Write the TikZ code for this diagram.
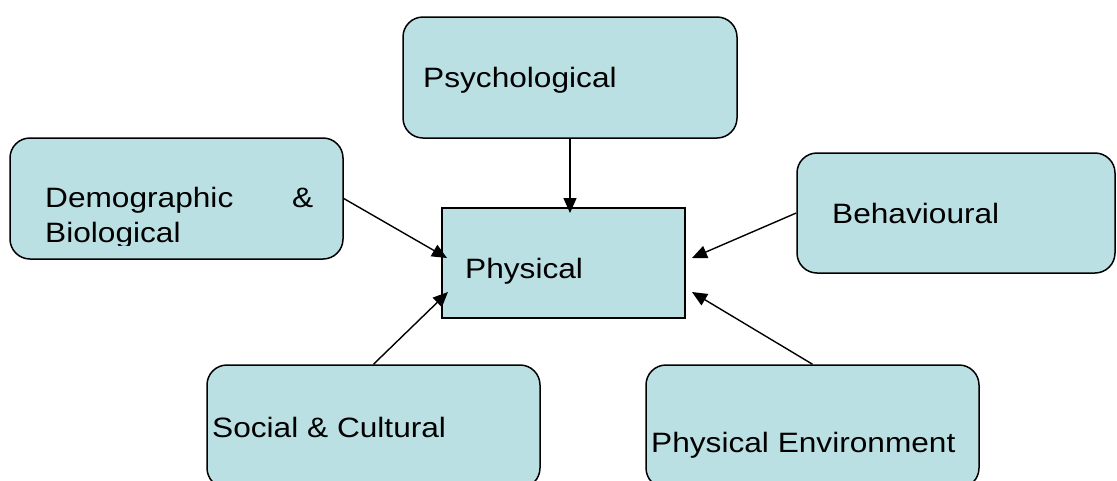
\documentclass[tikz,border=0pt]{standalone}
\usepackage{fontspec}
\setmainfont[FakeStretch=1.13]{Liberation Sans}
\usetikzlibrary{arrows.meta}
\definecolor{boxfill}{HTML}{BBE0E3}
\tikzset{
  rbox/.style={draw=black, line width=1.5pt, fill=boxfill, rounded corners=20pt, inner sep=0pt},
  sbox/.style={draw=black, line width=1.5pt, fill=boxfill, inner sep=0pt},
  lbl/.style={anchor=base west, inner sep=0pt, font=\fontsize{28}{35}\selectfont},
  arr/.style={line width=1.4pt, -{Triangle[length=15pt,width=13pt]}}
}
\begin{document}
\begin{tikzpicture}[x=1pt,y=-1pt]
\clip (0,0) rectangle (1117,480);
\node[rbox, minimum width=334pt, minimum height=121pt] (psy) at (570,77.5) {};
\node[rbox, minimum width=333pt, minimum height=121pt] (dem) at (176.5,198.5) {};
\node[sbox, minimum width=243pt, minimum height=110pt] (phy) at (563.5,263) {};
\node[rbox, minimum width=318pt, minimum height=120pt] (beh) at (956,213) {};
\node[rbox, minimum width=333pt, minimum height=123pt] (soc) at (373.5,426.5) {};
\node[rbox, minimum width=333pt, minimum height=123pt] (env) at (812.5,426.5) {};

\node[lbl] (psyt) at (423,87) {Psychological};
\begin{scope}
\clip (0,0) rectangle (1117,245);
\node[lbl] (demt) at (45,207) {\parbox[t]{268pt}{\fontsize{28}{35}\selectfont Demographic\hfill\&\\Biological}};
\end{scope}
\node[lbl] (phyt) at (465,278) {Physical};
\node[lbl] (beht) at (832,223) {Behavioural};
\node[lbl] (soct) at (212,437) {Social \& Cultural};
\node[lbl] (envt) at (651,452) {Physical Environment};

\coordinate (tpsy) at (570,213);
\coordinate (tdem) at (447,258);
\coordinate (tbeh) at (692,258);
\coordinate (tsoc) at (448,292);
\coordinate (tenv) at (692,292);

\draw[arr] (psy.south) -- (tpsy);
\draw[arr] (dem.east) -- (tdem);
\draw[arr] (beh.west) -- (tbeh);
\draw[arr] (soc.north) -- (tsoc);
\draw[arr] (env.north) -- (tenv);
\end{tikzpicture}
\end{document}
